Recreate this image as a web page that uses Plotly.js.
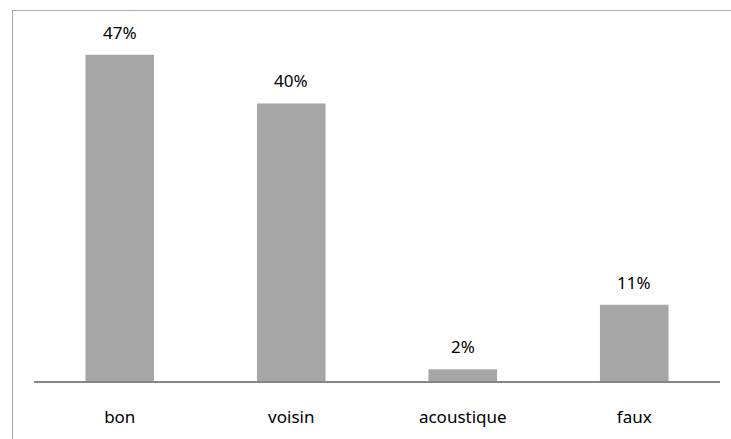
<!DOCTYPE html>
<html>
<head>
<meta charset="utf-8">
<script src="https://cdn.plot.ly/plotly-3.0.1.min.js"></script>
<style>
html,body{margin:0;padding:0;background:#fff;overflow:hidden;}
#wrap{position:relative;width:731px;height:439px;}
#frame{position:absolute;left:12px;top:10px;width:740px;height:460px;border-top:1.5px solid #ABABAB;border-left:1.5px solid #ABABAB;}
#chart{position:absolute;left:0;top:0;width:731px;height:439px;}
</style>
</head>
<body>
<div id="wrap"><div id="frame"></div><div id="chart"></div></div>
<script>
var categories = ["bon", "voisin", "acoustique", "faux"];
var values = [47, 40, 1.7, 11];
var valueLabels = ["47%", "40%", "2%", "11%"];

var FONT = "'Noto Sans', 'Open Sans', sans-serif";

var trace = {
  type: "bar",
  x: categories,
  y: values,
  marker: {color: "#A6A6A6"},
  hoverinfo: "none"
};

var annotations = categories.map(function (c, i) {
  return {
    x: c, y: values[i], xref: "x", yref: "y",
    text: valueLabels[i], showarrow: false,
    yanchor: "bottom", yshift: 9,
    font: {family: FONT, size: 17, color: "#000"}
  };
});

var layout = {
  width: 731, height: 439,
  margin: {l: 34, r: 11, t: 34, b: 58},
  paper_bgcolor: "rgba(0,0,0,0)", plot_bgcolor: "rgba(0,0,0,0)",
  bargap: 0.6,
  showlegend: false,
  xaxis: {
    type: "category",
    showline: true, linecolor: "#868686", linewidth: 2,
    ticks: "", showgrid: false, zeroline: false,
    ticklabelstandoff: 20,
    tickfont: {family: FONT, size: 17, color: "#000"},
    fixedrange: true
  },
  yaxis: {
    range: [0, 50], visible: false, showgrid: false, zeroline: false,
    fixedrange: true
  },
  annotations: annotations
};

Plotly.newPlot("chart", [trace], layout, {displayModeBar: false, staticPlot: true});
</script>
</body>
</html>
